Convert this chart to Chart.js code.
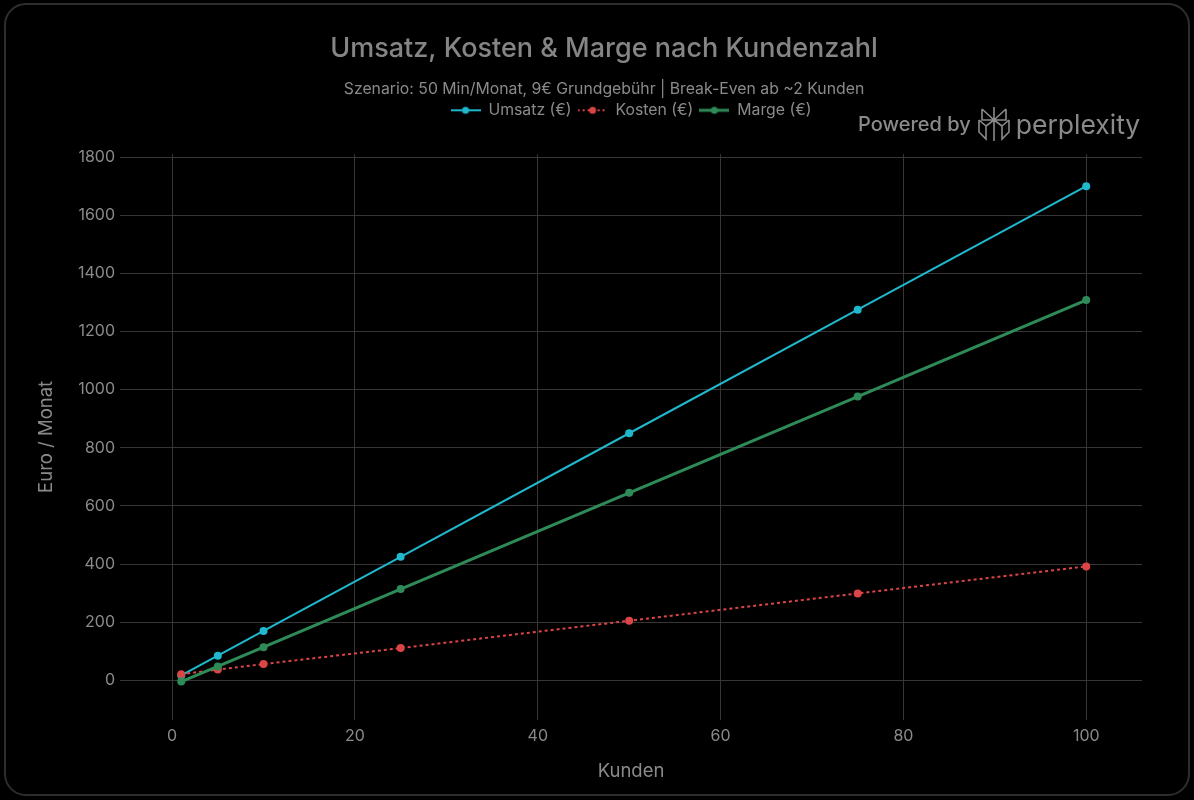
<!DOCTYPE html>
<html lang="de">
<head>
<meta charset="UTF-8">
<title>Umsatz, Kosten & Marge</title>
<script src="https://cdn.jsdelivr.net/npm/chart.js@4.4.1/dist/chart.umd.min.js"></script>
<style>
  html, body { margin: 0; padding: 0; background: #000; }
  #frame {
    position: absolute; left: 4px; top: 3px; width: 1186px; height: 793px;
    border: 2px solid #2e2e2e; border-radius: 22px; box-sizing: border-box;
  }
  #wrap { position: absolute; left: 0; top: 0; width: 1194px; height: 800px; }
  #brand {
    position: absolute; left: 858px; top: 106px; height: 36px;
    display: flex; align-items: center; color: #8a8a8a;
    font-family: Inter, "Noto Sans", sans-serif;
  }
  #brand .by { font-size: 20px; font-weight: 500; margin-right: 7px; }
  #brand .name { font-size: 26.5px; font-weight: 400; margin-left: 6px; }
</style>
</head>
<body>
<div id="frame"></div>
<div id="wrap"><canvas id="myChart" width="1194" height="800"></canvas></div>
<div id="brand">
  <span class="by">Powered by</span>
  <svg width="32" height="36" viewBox="0 0 32 36" fill="none" stroke="#8a8a8a" stroke-width="1.6">
    <path d="M16 1 V35 M4 3 L16 14 L28 3 M4 3 V14 H28 V3 M1 14 V26 L8 33 V20 L16 14 L24 20 V33 L31 26 V14 M8 20 L1 14 M24 20 L31 14"/>
  </svg>
  <span class="name">perplexity</span>
</div>
<script>
// Werte
var kunden = [1, 5, 10, 25, 50, 75, 100];
var umsatz = [17, 85, 170, 425, 850, 1275, 1700];
var kosten = [21, 37, 56, 111, 205, 299, 392];
var marge = [-4, 48, 114, 314, 645, 976, 1308];
var xTicks = [0, 20, 40, 60, 80, 100];
var yTicks = [0, 200, 400, 600, 800, 1000, 1200, 1400, 1600, 1800];

var textColor = '#8a8a8a';
var gridColor = '#363636';
var fontFam = 'Inter, "Noto Sans", sans-serif';

var toPoints = function(ys) {
    var pts = [];
    for (var i = 0; i < kunden.length; i++) {
        pts.push({ x: kunden[i], y: ys[i] });
    }
    return pts;
}

// kleine Legenden-Symbole: Linie mit Punkt
var legendIcon = function(color, width, dash) {
    var c = document.createElement('canvas');
    c.width = 30; c.height = 10;
    var g = c.getContext('2d');
    g.strokeStyle = color;
    g.lineWidth = width;
    if (dash) g.setLineDash(dash);
    g.beginPath(); g.moveTo(0, 5); g.lineTo(30, 5); g.stroke();
    g.fillStyle = color;
    g.beginPath(); g.arc(15, 5, 3.5, 0, Math.PI * 2); g.fill();
    return c;
}

var series = [
    { label: 'Umsatz (€)', data: umsatz, color: '#1FB8CD', width: 2, dash: [], order: 3 },
    { label: 'Kosten (€)', data: kosten, color: '#DB4545', width: 2, dash: [3, 3], order: 2 },
    { label: 'Marge (€)', data: marge, color: '#2E8B57', width: 3, dash: [], order: 1 }
];

var datasets = series.map(function(s) {
    return {
        label: s.label,
        data: toPoints(s.data),
        borderColor: s.color,
        backgroundColor: s.color,
        borderWidth: s.width,
        borderDash: s.dash,
        pointRadius: 4,
        pointHoverRadius: 4,
        pointBorderWidth: 0,
        order: s.order,
        tension: 0
    };
});

// Legende etwas hoeher machen -> mehr Abstand zum Plot
var legendSpace = {
    id: 'legendSpace',
    beforeInit: function(chart) {
        var origFit = chart.legend.fit;
        chart.legend.fit = function() {
            origFit.bind(chart.legend)();
            this.height += 26;
        };
    },
    // Titel / Legende horizontal so zentrieren wie im Original
    afterLayout: function(chart) {
        chart.boxes.forEach(function(b) {
            if (b.legendItems) {
                b.left = chart.chartArea.left;
                b.right = chart.chartArea.right;
            } else if (b.position === 'top' && b.options && b.options.text !== undefined) {
                b.left = 14;
                b.right = 1194;
            }
        });
    }
};

const ctx = document.getElementById('myChart').getContext('2d');
const myChart = new Chart(ctx, {
    type: 'line',
    data: { datasets: datasets },
    plugins: [legendSpace],
    options: {
        responsive: false,
        animation: false,
        layout: { padding: { left: 30, right: 52, top: 20, bottom: 17 } },
        plugins: {
            title: {
                display: true,
                text: 'Umsatz, Kosten & Marge nach Kundenzahl',
                color: '#858585',
                font: { family: fontFam, size: 27, weight: '500' },
                padding: { top: 13, bottom: 14 }
            },
            subtitle: {
                display: true,
                text: 'Szenario: 50 Min/Monat, 9€ Grundgebühr | Break-Even ab ~2 Kunden',
                color: textColor,
                font: { family: fontFam, size: 15.8 },
                padding: { top: 0, bottom: -2 }
            },
            legend: {
                display: true,
                position: 'top',
                labels: {
                    color: textColor,
                    font: { family: fontFam, size: 15.8 },
                    usePointStyle: true,
                    pointStyleWidth: 30,
                    boxHeight: 10,
                    padding: 6,
                    generateLabels: function(chart) {
                        return series.map(function(s, i) {
                            return {
                                text: s.label,
                                fillStyle: s.color,
                                strokeStyle: s.color,
                                fontColor: textColor,
                                lineWidth: 0,
                                pointStyle: legendIcon(s.color, s.width, s.dash.length ? [2, 3] : null),
                                datasetIndex: i,
                                hidden: false
                            };
                        });
                    }
                }
            },
            tooltip: { enabled: false }
        },
        scales: {
            x: {
                type: 'linear',
                min: -5.7,
                max: 106.1,
                afterBuildTicks: function(axis) {
                    axis.ticks = xTicks.map(function(v) { return { value: v }; });
                },
                grid: { color: gridColor, drawTicks: false },
                border: { display: false },
                ticks: { color: textColor, font: { family: fontFam, size: 16 }, padding: 7 },
                title: {
                    display: true, text: 'Kunden', color: textColor,
                    font: { family: fontFam, size: 18.5 }, padding: { top: 8, bottom: 0 }
                }
            },
            y: {
                min: -135,
                max: 1810,
                afterBuildTicks: function(axis) {
                    axis.ticks = yTicks.map(function(v) { return { value: v }; });
                },
                afterFit: function(axis) { axis.width = 90; },
                grid: { color: gridColor, drawTicks: false },
                border: { display: false },
                ticks: {
                    color: textColor, font: { family: fontFam, size: 16 }, padding: 5,
                    callback: function(v) { return String(v); }
                },
                title: {
                    display: true, text: 'Euro / Monat', color: textColor,
                    font: { family: fontFam, size: 18.5 }, padding: { top: 5, bottom: 0 }
                }
            }
        }
    }
});
</script>
</body>
</html>
